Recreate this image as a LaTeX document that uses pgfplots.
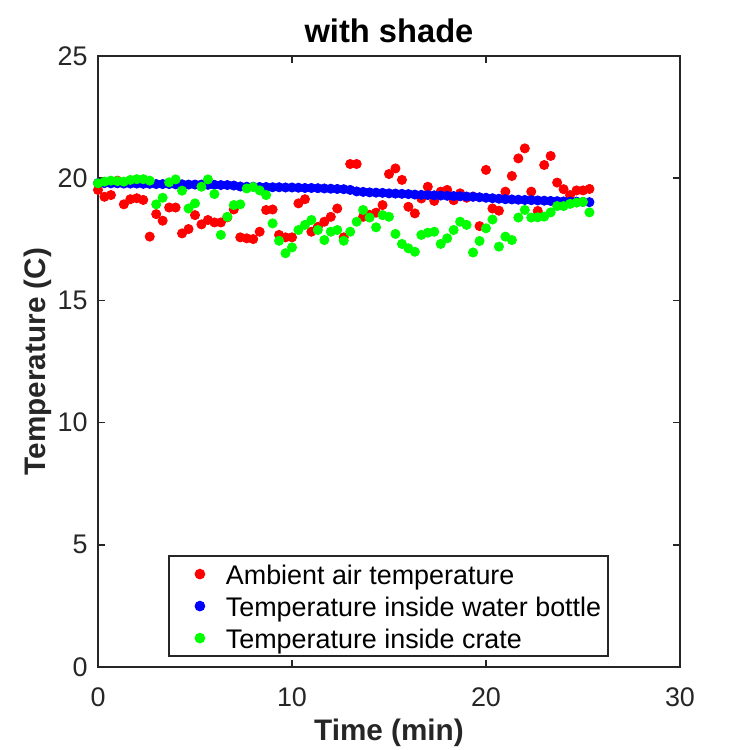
\documentclass[border=0pt]{standalone}
\usepackage{pgfplots}
\pgfplotsset{compat=1.18}
\usepackage{pgfplotstable}
\usepackage{fontspec}
\setmainfont{Liberation Sans}

\pgfplotstableread{
t air bottle crate
0 19.52 19.80 19.79
0.333 19.24 19.80 19.86
0.667 19.31 19.79 19.90
1 19.90 19.79 19.88
1.333 18.93 19.78 19.86
1.667 19.14 19.78 19.93
2 19.18 19.78 19.96
2.333 19.11 19.77 19.96
2.667 17.61 19.77 19.90
3 18.53 19.76 18.93
3.333 18.26 19.76 19.20
3.667 18.80 19.76 19.83
4 18.80 19.75 19.95
4.333 17.74 19.75 19.49
4.667 17.92 19.74 18.76
5 18.49 19.74 18.97
5.333 18.11 19.74 19.65
5.667 18.29 19.73 19.95
6 18.19 19.73 19.35
6.333 18.19 19.72 17.68
6.667 18.40 19.72 18.42
7 18.72 19.70 18.90
7.333 17.58 19.66 18.93
7.667 17.54 19.65 19.58
8 17.51 19.65 19.64
8.333 17.81 19.64 19.50
8.667 18.70 19.64 19.31
9 18.72 19.63 18.15
9.333 17.68 19.63 17.44
9.667 17.58 19.62 16.93
10 17.58 19.62 17.17
10.333 18.97 19.61 17.88
10.667 19.14 19.60 18.09
11 17.81 19.60 18.29
11.333 18.01 19.59 17.88
11.667 18.22 19.58 17.47
12 18.42 19.57 17.81
12.333 18.76 19.56 17.88
12.667 17.58 19.55 17.44
13 20.58 19.52 17.81
13.333 20.58 19.46 18.22
13.667 18.42 19.44 18.70
14 18.50 19.42 18.39
14.333 18.59 19.41 17.99
14.667 18.90 19.40 18.49
15 20.17 19.38 18.42
15.333 20.40 19.37 17.72
15.667 19.93 19.36 17.31
16 18.83 19.35 17.13
16.333 18.56 19.33 16.99
16.667 19.17 19.32 17.68
17 19.65 19.31 17.77
17.333 19.07 19.30 17.81
17.667 19.45 19.29 17.31
18 19.52 19.28 17.54
18.333 19.10 19.27 17.88
18.667 19.38 19.26 18.22
19 19.20 19.25 18.09
19.333 19.25 19.24 16.96
19.667 18.04 19.22 17.43
20 20.34 19.20 17.95
20.333 18.76 19.18 18.31
20.667 18.67 19.16 17.20
21 19.45 19.14 17.61
21.333 20.09 19.13 17.47
21.667 20.81 19.12 18.39
22 21.22 19.11 18.70
22.333 19.45 19.10 18.39
22.667 18.66 19.09 18.40
23 20.54 19.08 18.43
23.333 20.91 19.07 18.60
23.667 19.82 19.06 18.86
24 19.55 19.05 18.86
24.333 19.31 19.04 18.95
24.667 19.50 19.04 19.00
25 19.50 19.03 19.03
25.333 19.56 19.02 18.60
}\data

\begin{document}
\begin{tikzpicture}
\path[use as bounding box] (-49bp,-41.5bp) rectangle (326bp,333.5bp);
\begin{axis}[
  at={(0,0)}, anchor=south west,
  scale only axis, width=291bp, height=305.5bp,
  xmin=0, xmax=30, ymin=0, ymax=25,
  xtick={0,10,20,30}, ytick={0,5,10,15,20,25},
  tick align=inside, major tick length=3.5bp,
  axis line style={line width=0.9pt, black!85},
  major tick style={line width=0.9pt, black!85},
  tick label style={font=\fontsize{13.5}{16}\selectfont, text=black!85},
  xticklabel style={anchor=north, inner sep=0pt},
  yticklabel style={anchor=east, inner sep=0pt},
  xticklabel shift=10bp, yticklabel shift=5bp,
  /pgf/number format/assume math mode=true,
  title={with shade},
  every axis title shift=0pt,
  title style={font=\fontsize{16.4}{19}\selectfont\bfseries,
    at={(axis description cs:0.5,1.0229)}, anchor=base, yshift=0pt},
  xlabel={Time (min)}, ylabel={Temperature (C)},
  xlabel style={font=\fontsize{14.9}{18}\selectfont\bfseries, text=black!85,
    at={(axis description cs:0.5,-0.1195)}, anchor=base},
  ylabel style={font=\fontsize{14.9}{18}\selectfont\bfseries, text=black!85,
    at={(axis description cs:-0.0904,0.5)}, anchor=base},
  legend style={at={(0.1203,0.0164)}, anchor=south west, draw=black!85,
    line width=0.9pt, font=\fontsize{13.5}{16}\selectfont,
    inner xsep=1bp, inner ysep=1bp, row sep=0bp,
    nodes={inner xsep=2.5bp, inner ysep=1.5bp, text height=11.5bp, text depth=1.5bp}},
  legend cell align=left,
  legend image code/.code={
    \path[draw=none, fill=none] (0bp,0bp) -- (25bp,0bp);
    \draw[#1, mark size=2.2bp] plot coordinates {(14.5bp,0bp)};
  },
]
\addplot[only marks, mark=*, mark size=2.3bp, color=red, mark options={draw=red, fill=red}] table[x=t,y=air]{\data};
\addlegendentry{Ambient air temperature}
\addplot[only marks, mark=*, mark size=2.3bp, color=blue, mark options={draw=blue, fill=blue}] table[x=t,y=bottle]{\data};
\addlegendentry{Temperature inside water bottle}
\addplot[only marks, mark=*, mark size=2.3bp, color=green, mark options={draw=green, fill=green}] table[x=t,y=crate]{\data};
\addlegendentry{Temperature inside crate}
\end{axis}
\end{tikzpicture}
\end{document}
